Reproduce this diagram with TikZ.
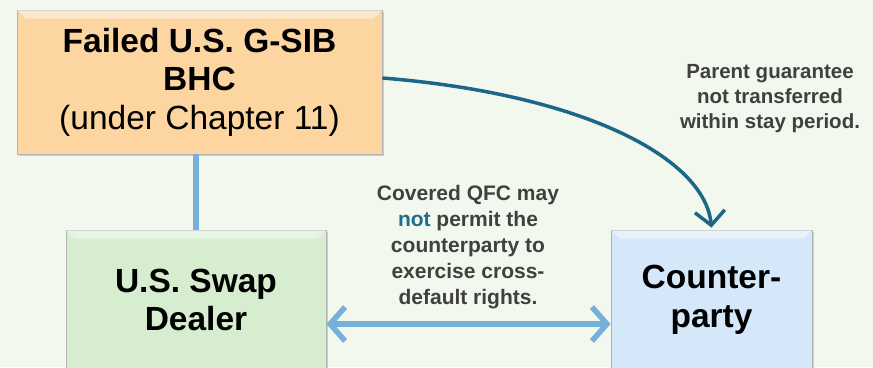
\documentclass[tikz,border=0pt]{standalone}
\usepackage{fontspec}
\setmainfont{Liberation Sans}
\usetikzlibrary{arrows.meta}
\usetikzlibrary{shadows}
\usetikzlibrary{calc}
\definecolor{bgcol}{HTML}{F3F8EE}
\definecolor{bhcfill}{HTML}{FCD5A1}
\definecolor{dealerfill}{HTML}{D6EDD0}
\definecolor{cptyfill}{HTML}{D4E8F9}
\definecolor{lightline}{HTML}{76AFDA}
\definecolor{darkline}{HTML}{1C6686}
\definecolor{notecol}{HTML}{404040}
\definecolor{notcol}{HTML}{1F6E8C}

\begin{document}
\begin{tikzpicture}[x=1pt,y=-1pt,
    entity/.style={draw=black!30, line width=0.8pt, align=center,
      drop shadow={shadow xshift=2pt, shadow yshift=-2pt, opacity=.35},
      font=\fontsize{33.5}{38.5}\selectfont\bfseries},
    note/.style={align=center, text=notecol,
      font=\fontsize{21}{26}\selectfont\bfseries},
    barb/.tip={Straight Barb[length=15pt,width=34pt]}]
  \fill[bgcol] (0,0) rectangle (873,367);
  \useasboundingbox (0,0) rectangle (873,367);
  \clip (0,0) rectangle (873,367);

  \node[entity, fill=bhcfill, minimum width=365pt, minimum height=144pt] (bhc) at (199.5,82)
    {Failed U.S. G-SIB\\BHC\\{\mdseries (under Chapter 11)}};
  \node[entity, fill=dealerfill, minimum width=260pt, minimum height=140pt] (dealer) at (196,300)
    {U.S. Swap\\Dealer};
  \node[entity, fill=cptyfill, minimum width=201pt, minimum height=140pt] (cpty) at (711.5,300)
    {Counter-\\party};

  % bevel on the top edge
  \foreach \n in {bhc,dealer,cpty}
    \fill[white, opacity=.45] (\n.north west) -- (\n.north east)
      -- ($(\n.north east)+(-9,9)$) -- ($(\n.north west)+(9,9)$) -- cycle;

  \node[note] (stay) at (468,247)
    {Covered QFC may\\{\color{notcol}not} permit the\\counterparty to\\exercise cross-\\default rights.};
  \node[note, font=\fontsize{20.5}{25}\selectfont\bfseries] (guar) at (770,99)
    {Parent guarantee\\not transferred\\within stay period.};

  \draw[lightline, line width=5.5pt] (dealer.north) -- (dealer.north |- bhc.south);
  \draw[lightline, line width=5.5pt, barb-barb]
    ([yshift=-24pt]dealer.east) -- ([yshift=-24pt]cpty.west);
  \draw[darkline, line width=3.5pt, -{Straight Barb[length=14pt,width=30pt]}]
    ([yshift=4pt]bhc.east) .. controls +(200,16) and +(-7,-70) .. ([yshift=2pt]cpty.north);
\end{tikzpicture}
\end{document}
